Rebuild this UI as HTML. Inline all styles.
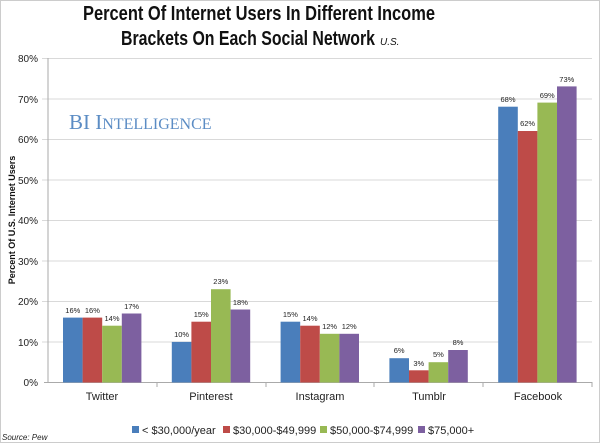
<!DOCTYPE html>
<html><head><style>
html,body{margin:0;padding:0;background:#fff;}
svg{display:block;}
</style></head><body>
<svg width="600" height="443" viewBox="0 0 600 443" xmlns="http://www.w3.org/2000/svg" font-family="Liberation Sans, sans-serif">
<rect x="0.5" y="0.5" width="599" height="442" fill="#fff" stroke="#ccc"/>
<text x="83" y="20" font-size="20" font-weight="bold" textLength="352" lengthAdjust="spacingAndGlyphs" fill="#111">Percent Of Internet Users In Different Income</text>
<text x="121" y="45" font-size="20" font-weight="bold" textLength="254" lengthAdjust="spacingAndGlyphs" fill="#111">Brackets On Each Social Network</text>
<text x="380" y="45" font-size="10" font-style="italic" fill="#111">U.S.</text>
<g stroke="#d9d9d9" stroke-width="1">
<line x1="42" y1="58.5" x2="592" y2="58.5"/>
<line x1="42" y1="99" x2="592" y2="99"/>
<line x1="42" y1="139.5" x2="592" y2="139.5"/>
<line x1="42" y1="180" x2="592" y2="180"/>
<line x1="42" y1="220.5" x2="592" y2="220.5"/>
<line x1="42" y1="261" x2="592" y2="261"/>
<line x1="42" y1="301.5" x2="592" y2="301.5"/>
<line x1="42" y1="342" x2="592" y2="342"/>
</g>
<line x1="48" y1="58" x2="48" y2="383" stroke="#aaa"/>
<line x1="44" y1="382.5" x2="592" y2="382.5" stroke="#aaa"/>
<g stroke="#aaa"><line x1="157" y1="382" x2="157" y2="387"/><line x1="266" y1="382" x2="266" y2="387"/><line x1="374" y1="382" x2="374" y2="387"/><line x1="483" y1="382" x2="483" y2="387"/><line x1="592" y1="382" x2="592" y2="387"/></g>
<g font-size="10" fill="#222" text-anchor="end">
<text x="38" y="62">80%</text><text x="38" y="103">70%</text><text x="38" y="143">60%</text><text x="38" y="184">50%</text><text x="38" y="224">40%</text><text x="38" y="265">30%</text><text x="38" y="305">20%</text><text x="38" y="346">10%</text><text x="38" y="386">0%</text>
</g>
<text transform="translate(15,220) rotate(-90)" font-size="9" font-weight="bold" text-anchor="middle" fill="#111">Percent Of U.S. Internet Users</text>
<text x="69" y="129" font-family="Liberation Serif, serif" font-size="21" fill="#5b8cc4">BI I<tspan font-size="16">NTELLIGENCE</tspan></text>
<g id="bars"></g>
<g font-size="11" fill="#222" text-anchor="middle">
<text x="102" y="400">Twitter</text><text x="211" y="400">Pinterest</text><text x="320" y="400">Instagram</text><text x="429" y="400">Tumblr</text><text x="538" y="400">Facebook</text>
</g>
<g font-size="11" fill="#222">
<rect x="132" y="426" width="7" height="7" fill="#4a7ebb"/><text x="142" y="434">&lt; $30,000/year</text>
<rect x="223" y="426" width="7" height="7" fill="#be4b48"/><text x="233" y="434">$30,000-$49,999</text>
<rect x="320" y="426" width="7" height="7" fill="#98b954"/><text x="330" y="434">$50,000-$74,999</text>
<rect x="418" y="426" width="7" height="7" fill="#7d60a0"/><text x="428" y="434">$75,000+</text>
</g>
<text x="2" y="440" font-size="8" font-style="italic" fill="#222">Source: Pew</text>
<g font-size="7.5" fill="#222" text-anchor="middle">
<!-- bars generated below -->
<rect x="63" y="317.6" width="19.6" height="64.9" fill="#4a7ebb"/><text x="72.8" y="313">16%</text>
<rect x="82.6" y="317.6" width="19.6" height="64.9" fill="#be4b48"/><text x="92.4" y="313">16%</text>
<rect x="102.2" y="325.7" width="19.6" height="56.8" fill="#98b954"/><text x="112" y="321">14%</text>
<rect x="121.8" y="313.5" width="19.6" height="69" fill="#7d60a0"/><text x="131.6" y="309">17%</text>

<rect x="171.8" y="341.9" width="19.6" height="40.6" fill="#4a7ebb"/><text x="181.6" y="337">10%</text>
<rect x="191.4" y="321.7" width="19.6" height="60.8" fill="#be4b48"/><text x="201.2" y="317">15%</text>
<rect x="211" y="289.2" width="19.6" height="93.3" fill="#98b954"/><text x="220.8" y="284">23%</text>
<rect x="230.6" y="309.5" width="19.6" height="73" fill="#7d60a0"/><text x="240.4" y="305">18%</text>

<rect x="280.6" y="321.7" width="19.6" height="60.8" fill="#4a7ebb"/><text x="290.4" y="317">15%</text>
<rect x="300.2" y="325.7" width="19.6" height="56.8" fill="#be4b48"/><text x="310" y="321">14%</text>
<rect x="319.8" y="333.8" width="19.6" height="48.7" fill="#98b954"/><text x="329.6" y="329">12%</text>
<rect x="339.4" y="333.8" width="19.6" height="48.7" fill="#7d60a0"/><text x="349.2" y="329">12%</text>

<rect x="389.4" y="358.2" width="19.6" height="24.3" fill="#4a7ebb"/><text x="399.2" y="353">6%</text>
<rect x="409" y="370.3" width="19.6" height="12.2" fill="#be4b48"/><text x="418.8" y="366">3%</text>
<rect x="428.6" y="362.2" width="19.6" height="20.3" fill="#98b954"/><text x="438.4" y="357">5%</text>
<rect x="448.2" y="350" width="19.6" height="32.5" fill="#7d60a0"/><text x="458" y="345">8%</text>

<rect x="498.2" y="106.7" width="19.6" height="275.8" fill="#4a7ebb"/><text x="508" y="102">68%</text>
<rect x="517.8" y="131" width="19.6" height="251.5" fill="#be4b48"/><text x="527.6" y="126">62%</text>
<rect x="537.4" y="102.6" width="19.6" height="279.9" fill="#98b954"/><text x="547.2" y="98">69%</text>
<rect x="557" y="86.4" width="19.6" height="296.1" fill="#7d60a0"/><text x="566.8" y="82">73%</text>
</g>
</svg>
</body></html>
